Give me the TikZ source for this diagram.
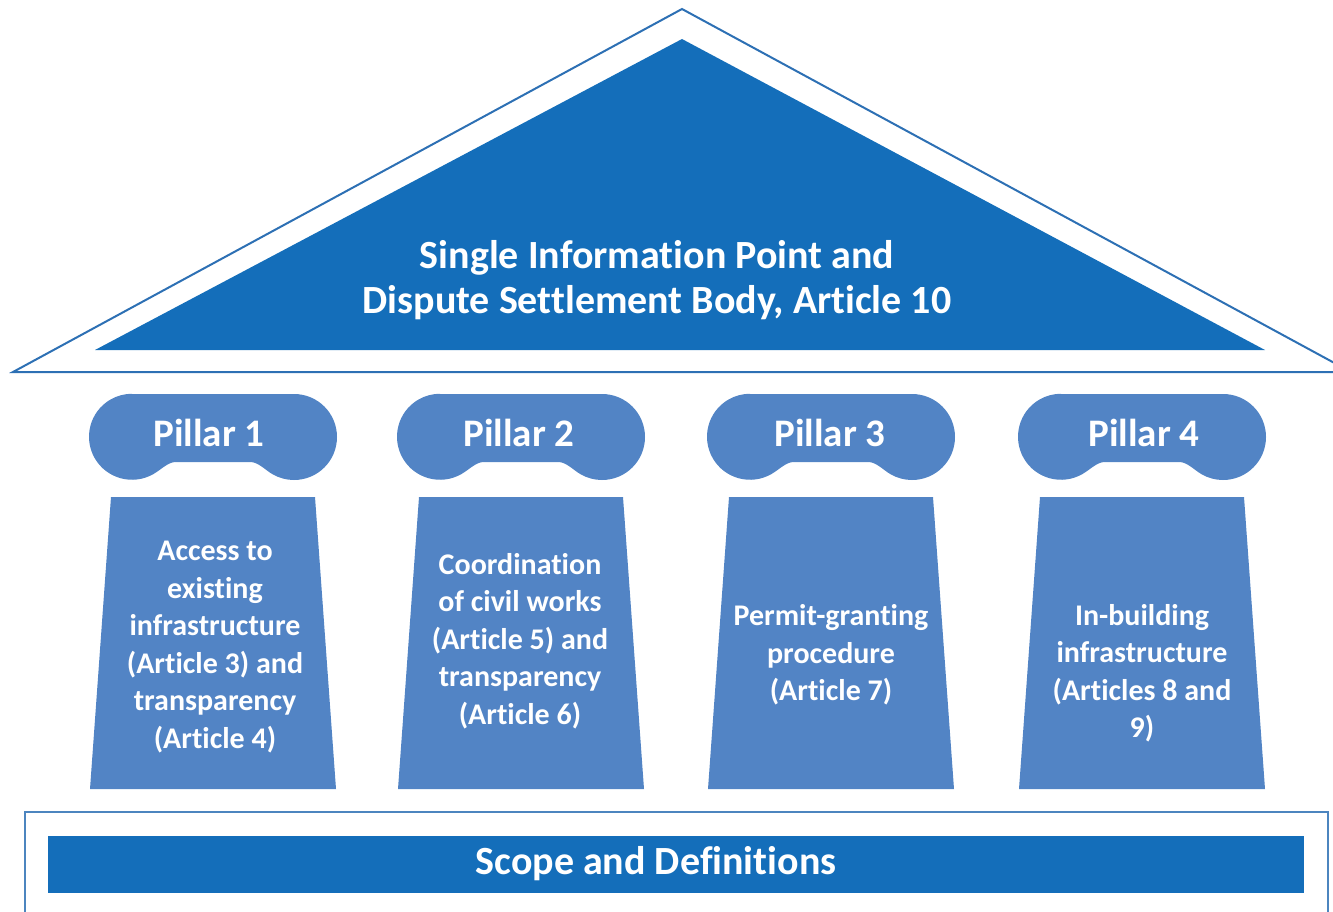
\documentclass[tikz,border=0pt]{standalone}
\usepackage{fontspec}
\setmainfont{Carlito}[Ligatures=NoCommon]
\usepackage{tikz}
\usetikzlibrary{positioning}
\definecolor{roofblue}{RGB}{20,110,186}
\definecolor{pillarblue}{RGB}{82,132,197}
\definecolor{lineblue}{RGB}{45,112,180}

\begin{document}
\begin{tikzpicture}[x=1pt, y=-1pt,
  captxt/.style={font=\bfseries\fontsize{39}{44}\selectfont, text=white, inner sep=0pt},
  shafttxt/.style={font=\bfseries\fontsize{30}{37.5}\selectfont, text=white,
                   align=center, inner sep=0pt},
  rooftxt/.style={font=\bfseries\fontsize{40}{45}\selectfont, text=white,
                  align=center, inner sep=0pt}]
  \clip (0,0) rectangle (1333,912);

  % Roof
  \draw[lineblue, line width=2pt] (13,372) -- (682,9) -- (1351,372) -- cycle;
  \fill[roofblue] (95,350) -- (682,39) -- (1265,350) -- cycle;
  \node[rooftxt] (roof) at (657,280) {Single Information Point and\\Dispute Settlement Body, Article 10};

  % Capitals and shafts
  \foreach \cx in {213,521,831,1142} {
    \fill[pillarblue] ({\cx-81},394) -- ({\cx+81},394)
      arc[start angle=-90, end angle=120, radius=43]
      .. controls ({\cx+51},469) and ({\cx+45},462) .. ({\cx+37},462)
      -- ({\cx-37},462)
      .. controls ({\cx-45},462) and ({\cx-51},469) .. ({\cx-59.5},474)
      arc[start angle=60, end angle=270, radius=43] -- cycle;
    \fill[pillarblue] ({\cx-102},497) -- ({\cx+102},497) -- ({\cx+123},789)
      -- ({\cx-123},789) -- cycle;
  }

  % Pillar titles
  \node[captxt] (p1) at (209,433) {Pillar 1};
  \node[captxt] (p2) at (519,433) {Pillar 2};
  \node[captxt] (p3) at (830,433) {Pillar 3};
  \node[captxt] (p4) at (1144,433) {Pillar 4};

  % Pillar contents
  \node[shafttxt] (s1) at (215,647) {Access to\\existing\\infrastructure\\(Article 3) and\\transparency\\(Article 4)};
  \node[shafttxt] (s2) at (520,641) {Coordination\\of civil works\\(Article 5) and\\transparency\\(Article 6)};
  \node[shafttxt] (s3) at (831,655) {Permit-granting\\procedure\\(Article 7)};
  \node[shafttxt] (s4) at (1142,673) {In-building\\infrastructure\\(Articles 8 and\\9)};

  % Base
  \draw[lineblue!85, line width=1.5pt] (25,914) -- (25,812) -- (1328,812) -- (1328,914);
  \fill[roofblue] (48,836) rectangle (1304,893);
  \node[rooftxt] (scope) at (656,864) {Scope and Definitions};
\end{tikzpicture}
\end{document}
